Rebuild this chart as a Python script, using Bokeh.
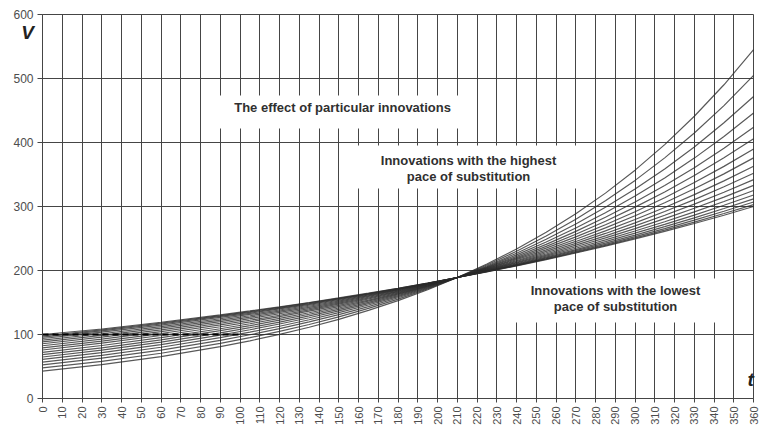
import math
from bokeh.plotting import figure
from bokeh.models import FixedTicker, Label, BoxAnnotation, Range1d
from bokeh.embed import file_html
from bokeh.resources import INLINE

# time points (t) at which the curves are read
T = [0, 30, 60, 90, 105, 120, 135, 150, 165, 180, 195, 210,
     225, 240, 255, 270, 285, 300, 315, 330, 345, 360]

# V values for each innovation curve
curve_01 = [42.9, 53.0, 65.5, 81.0, 90.1, 100.1, 111.3, 123.7, 137.6, 152.9, 170.0, 189, 210.1, 233.6, 259.7, 288.7, 320.9, 356.8, 396.7, 441.0, 490.2, 545]
curve_02 = [47.7, 58.1, 70.7, 86.1, 95.0, 104.8, 115.6, 127.6, 140.7, 155.3, 171.3, 189, 208.5, 230.1, 253.8, 280.0, 308.9, 340.8, 376.0, 414.9, 457.7, 505]
curve_03 = [52.5, 63.0, 75.7, 90.9, 99.6, 109.1, 119.6, 131.1, 143.6, 157.4, 172.5, 189, 207.1, 227.0, 248.7, 272.6, 298.7, 327.3, 358.7, 393.1, 430.8, 472]
curve_04 = [56.8, 67.5, 80.1, 95.1, 103.6, 112.9, 123.0, 134.1, 146.1, 159.2, 173.4, 189, 205.9, 224.4, 244.5, 266.4, 290.3, 316.4, 344.7, 375.6, 409.3, 446]
curve_05 = [61.0, 71.7, 84.2, 99.0, 107.4, 116.4, 126.2, 136.8, 148.3, 160.8, 174.3, 189, 204.9, 222.1, 240.8, 261.1, 283.1, 306.9, 332.7, 360.7, 391.1, 424]
curve_06 = [64.8, 75.5, 88.0, 102.5, 110.7, 119.4, 129.0, 139.2, 150.3, 162.2, 175.1, 189, 204.0, 220.2, 237.7, 256.6, 277.0, 299.0, 322.8, 348.4, 376.1, 406]
curve_07 = [68.6, 79.2, 91.6, 105.9, 113.8, 122.4, 131.6, 141.4, 152.1, 163.5, 175.8, 189, 203.2, 218.5, 234.9, 252.5, 271.5, 291.9, 313.8, 337.4, 362.7, 390]
curve_08 = [72.2, 82.8, 95.0, 109.0, 116.8, 125.1, 134.0, 143.5, 153.8, 164.7, 176.4, 189, 202.5, 216.9, 232.3, 248.9, 266.6, 285.6, 305.9, 327.7, 351.0, 376]
curve_09 = [75.8, 86.4, 98.4, 112.1, 119.7, 127.8, 136.4, 145.6, 155.4, 165.9, 177.1, 189, 201.7, 215.3, 229.9, 245.4, 261.9, 279.6, 298.5, 318.6, 340.1, 363]
curve_10 = [79.1, 89.6, 101.5, 114.9, 122.3, 130.1, 138.5, 147.4, 156.8, 166.9, 177.6, 189, 201.1, 214.0, 227.8, 242.4, 257.9, 274.5, 292.1, 310.8, 330.8, 352]
curve_11 = [82.4, 92.8, 104.4, 117.6, 124.8, 132.4, 140.5, 149.1, 158.2, 167.9, 178.1, 189, 200.5, 212.8, 225.8, 239.6, 254.2, 269.8, 286.3, 303.8, 322.3, 342]
curve_12 = [85.5, 95.8, 107.3, 120.1, 127.1, 134.5, 142.4, 150.7, 159.5, 168.8, 178.6, 189, 200.0, 211.7, 224.0, 237.1, 250.9, 265.5, 281.0, 297.3, 314.7, 333]
curve_13 = [88.5, 98.6, 109.9, 122.5, 129.3, 136.5, 144.1, 152.2, 160.6, 169.6, 179.0, 189, 199.5, 210.6, 222.4, 234.8, 247.9, 261.7, 276.2, 291.6, 307.9, 325]
curve_14 = [91.2, 101.2, 112.3, 124.6, 131.3, 138.3, 145.7, 153.5, 161.7, 170.3, 179.4, 189, 199.1, 209.7, 220.9, 232.7, 245.2, 258.3, 272.0, 286.6, 301.9, 318]
curve_15 = [93.7, 103.6, 114.5, 126.6, 133.1, 139.9, 147.1, 154.7, 162.6, 171.0, 179.8, 189, 198.7, 208.9, 219.7, 231.0, 242.8, 255.3, 268.5, 282.2, 296.8, 312]
curve_16 = [95.8, 105.6, 116.4, 128.2, 134.6, 141.3, 148.3, 155.7, 163.4, 171.5, 180.0, 189, 198.4, 208.3, 218.6, 229.5, 240.9, 252.9, 265.4, 278.6, 292.5, 307]
curve_17 = [97.6, 107.3, 117.9, 129.6, 135.8, 142.4, 149.3, 156.5, 164.1, 172.0, 180.3, 189, 198.1, 207.7, 217.7, 228.3, 239.3, 250.9, 263.0, 275.7, 289.0, 303]
curve_18 = [100.0, 108.6, 119.1, 130.6, 136.8, 143.2, 150.0, 157.1, 164.5, 172.3, 180.5, 189, 197.9, 207.3, 217.1, 227.4, 238.1, 249.4, 261.2, 273.5, 286.4, 300]

curves = [curve_01, curve_02, curve_03, curve_04, curve_05, curve_06,
          curve_07, curve_08, curve_09, curve_10, curve_11, curve_12,
          curve_13, curve_14, curve_15, curve_16, curve_17, curve_18]

# dashed reference level
ref_t = [0, 100]
ref_v = [100, 100]

x_ticks = [0, 10, 20, 30, 40, 50, 60, 70, 80, 90, 100, 110, 120, 130, 140, 150,
           160, 170, 180, 190, 200, 210, 220, 230, 240, 250, 260, 270, 280, 290,
           300, 310, 320, 330, 340, 350, 360]
y_ticks = [0, 100, 200, 300, 400, 500, 600]

FONT = "Liberation Sans"
GRID = "#454545"

p = figure(width=760, height=428,
           x_range=Range1d(-21.27, 363.5), y_range=Range1d(-46.9, 621.9),
           output_backend="svg", toolbar_location=None,
           min_border_left=0, min_border_right=0, min_border_top=0, min_border_bottom=0)
p.background_fill_color = "white"
p.border_fill_color = "white"
p.outline_line_color = None

p.xaxis.fixed_location = 0
p.yaxis.fixed_location = 0
p.xaxis.bounds = (0, 360)
p.yaxis.bounds = (0, 600)

p.xaxis.ticker = FixedTicker(ticks=x_ticks, minor_ticks=[])
p.yaxis.ticker = FixedTicker(ticks=y_ticks, minor_ticks=[])
p.xgrid.ticker = FixedTicker(ticks=x_ticks, minor_ticks=[])
p.ygrid.ticker = FixedTicker(ticks=y_ticks, minor_ticks=[])
p.xgrid.cross_bounds = (0, 600)
p.ygrid.cross_bounds = (0, 360)
for g in (p.xgrid, p.ygrid):
    g.grid_line_color = GRID
    g.grid_line_width = 1
    g.grid_line_alpha = 1

for ax in (p.xaxis, p.yaxis):
    ax.axis_line_color = GRID
    ax.major_tick_line_color = GRID
    ax.major_tick_in = 0
    ax.minor_tick_line_color = None
    ax.major_label_text_font = FONT
    ax.major_label_text_color = "#4d4d4d"

p.xaxis.major_tick_out = 4
p.xaxis.major_label_standoff = 4
p.xaxis.major_label_orientation = math.pi / 2
p.xaxis.major_label_text_font_size = "11px"
p.yaxis.major_tick_out = 5
p.yaxis.major_label_standoff = 4
p.yaxis.major_label_text_font_size = "12px"

for c in curves:
    p.line(T, c, line_color="#2a2a2a", line_width=1.2, line_alpha=0.78)

p.line(ref_t, ref_v, line_color="black", line_width=2, line_dash="6 4")

# white boxes behind annotations
p.add_layout(BoxAnnotation(left=82.5, right=216.7, bottom=421.9, top=473.4,
                           fill_color="white", fill_alpha=1, line_color=None))
p.add_layout(BoxAnnotation(left=158.5, right=274.9, bottom=328.1, top=395.3,
                           fill_color="white", fill_alpha=1, line_color=None))
p.add_layout(BoxAnnotation(left=239.5, right=348.4, bottom=118.75, top=187.5,
                           fill_color="white", fill_alpha=1, line_color=None))

def lab(x, y, text, size="13px", style="bold", color="#303030"):
    p.add_layout(Label(x=x, y=y, text=text, text_align="center", text_baseline="middle",
                       text_font=FONT, text_font_style=style, text_font_size=size,
                       text_color=color))

lab(151.9, 454.7, "The effect of particular innovations")
lab(215.7, 371.9, "Innovations with the highest")
lab(215.7, 346.9, "pace of substitution")
lab(290.1, 168.75, "Innovations with the lowest")
lab(290.1, 143.75, "pace of substitution")
lab(-7.6, 571.9, "V", size="19px", style="bold italic", color="#222222")
lab(358.5, 29.7, "t", size="19px", style="bold italic", color="#222222")

open("out.html", "w").write(file_html(p, INLINE))
